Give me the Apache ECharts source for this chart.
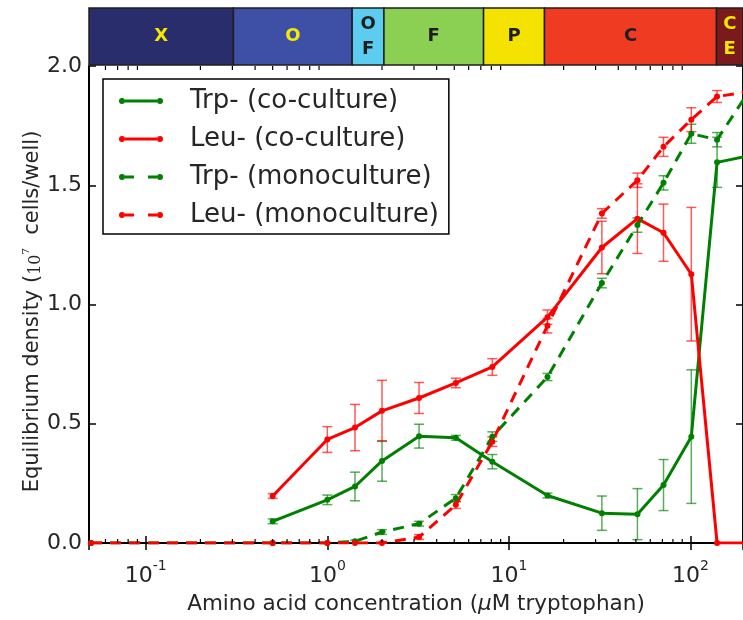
<!DOCTYPE html>
<html>
<head>
<meta charset="utf-8">
<script src="https://cdn.jsdelivr.net/npm/echarts@6/dist/echarts.min.js"></script>
<style>
  html, body { margin: 0; padding: 0; background: #fff; }
  #chart { width: 743px; height: 620px; }
</style>
</head>
<body>
<div id="chart"></div>
<script>
// ---- data (µM tryptophan, density in 10^7 cells/well) ----
const coConc   = [0.5, 1, 1.42, 2, 3.2, 5.1, 8.1, 16.3, 32.5, 51, 71, 101, 140, 200];
const trpCo    = [0.091, 0.181, 0.237, 0.344, 0.448, 0.441, 0.341, 0.199, 0.125, 0.121, 0.243, 0.446, 1.596, 1.62];
const trpCoErr = [0.01, 0.02, 0.06, 0.085, 0.05, 0.01, 0.03, 0.01, 0.072, 0.107, 0.107, 0.28, 0.105, 0];
const leuCo    = [0.197, 0.434, 0.484, 0.554, 0.608, 0.671, 0.738, 0.947, 1.239, 1.36, 1.301, 1.127, 0, 0];
const leuCoErr = [0.01, 0.054, 0.097, 0.128, 0.065, 0.02, 0.035, 0.03, 0.11, 0.146, 0.12, 0.28, 0, 0];

const monoConc   = [0.05, 0.5, 1, 1.42, 2, 3.2, 5.1, 8.1, 16.3, 32.5, 51, 71, 101, 140, 200];
const trpMono    = [0, 0, 0, 0.007, 0.046, 0.081, 0.188, 0.446, 0.696, 1.09, 1.333, 1.51, 1.716, 1.691, 1.87];
const trpMonoErr = [0, 0, 0, 0.005, 0.01, 0.01, 0.015, 0.02, 0.015, 0.02, 0.03, 0.03, 0.04, 0.03, 0];
const leuMono    = [0, 0, 0, 0, 0, 0.025, 0.16, 0.425, 0.911, 1.382, 1.521, 1.661, 1.775, 1.872, 1.89];
const leuMonoErr = [0, 0, 0, 0, 0, 0.01, 0.015, 0.02, 0.03, 0.02, 0.03, 0.04, 0.05, 0.025, 0];

// interaction regimes along the concentration axis
const phaseLabels = ['X', 'O', 'O\nF', 'F', 'P', 'C', 'C\nE'];
const phaseEdges  = [0.0487, 0.304, 1.37, 2.05, 7.25, 15.7, 139, 200];

// log-axis minor tick positions
const minorTicks = [0.06, 0.07, 0.08, 0.09, 0.2, 0.3, 0.4, 0.5, 0.6, 0.7, 0.8, 0.9,
                    2, 3, 4, 5, 6, 7, 8, 9, 20, 30, 40, 50, 60, 70, 80, 90];

const xMin = 0.0487, xMax = 194.5;
const yTicks = [0, 0.5, 1.0, 1.5, 2.0];

// ---- styling ----
const GREEN = '#008000', RED = '#ff0000';
const TXT = '#262626';
const FONT = '"DejaVu Sans", sans-serif';
const phaseFill = ['#2a2d6c', '#3d50a6', '#5ccdf0', '#8bcf53', '#f4e300', '#ef3b22', '#7a1a1c'];
const phaseText = ['#f6e900', '#f6e900', '#1e1e1e', '#1e1e1e', '#1e1e1e', '#1e1e1e', '#f6e900'];

const solidIcon  = 'path://M6,2 L38,2 L38,5 L6,5 Z M0,3.5 A3,3 0 1,1 6,3.5 A3,3 0 1,1 0,3.5 Z M38,3.5 A3,3 0 1,1 44,3.5 A3,3 0 1,1 38,3.5 Z';
const dashedIcon = 'path://M6,2 L15,2 L15,5 L6,5 Z M29,2 L38,2 L38,5 L29,5 Z M0,3.5 A3,3 0 1,1 6,3.5 A3,3 0 1,1 0,3.5 Z M38,3.5 A3,3 0 1,1 44,3.5 A3,3 0 1,1 38,3.5 Z';

function pairs(xs, ys) { return xs.map((x, i) => [x, ys[i]]); }

function lineSeries(name, xs, ys, color, dashed, z) {
  return {
    name, type: 'line', xAxisIndex: 0, yAxisIndex: 0, z,
    data: pairs(xs, ys),
    symbol: 'circle', symbolSize: 6, showSymbol: true,
    clip: true,
    itemStyle: { color, borderWidth: 0 },
    lineStyle: { color, width: 3, type: dashed ? [11, 8] : 'solid' },
    emphasis: { disabled: true },
    animation: false
  };
}

function errorSeries(xs, ys, errs, color, z) {
  return {
    type: 'custom', xAxisIndex: 0, yAxisIndex: 0, z, clip: true, silent: true,
    data: xs.map((x, i) => [x, ys[i], errs[i]]).filter(d => d[2] > 0),
    renderItem(params, api) {
      const x = api.value(0), y = api.value(1), e = api.value(2);
      const hi = api.coord([x, y + e]);
      const lo = api.coord([x, y - e]);
      const w = 5;
      const st = { stroke: color, lineWidth: 1.5, opacity: 0.65 };
      return {
        type: 'group',
        children: [
          { type: 'line', shape: { x1: hi[0], y1: hi[1], x2: lo[0], y2: lo[1] }, style: st },
          { type: 'line', shape: { x1: hi[0] - w, y1: hi[1], x2: hi[0] + w, y2: hi[1] }, style: st },
          { type: 'line', shape: { x1: lo[0] - w, y1: lo[1], x2: lo[0] + w, y2: lo[1] }, style: st }
        ]
      };
    }
  };
}

const chart = echarts.init(document.getElementById('chart'), null, { renderer: 'canvas' });

const axisLineStyle = { color: '#000', width: 2 };

chart.setOption({
  animation: false,
  backgroundColor: '#fff',
  grid: [
    { left: 89, right: -3, top: 66, bottom: 75 },
    { left: 89, right: -3, top: 8, height: 57 }
  ],
  xAxis: [
    {
      type: 'log', logBase: 10, min: xMin, max: xMax, gridIndex: 0, position: 'bottom',
      axisLine: { show: true, lineStyle: axisLineStyle },
      axisTick: { show: true, inside: true, length: 7, lineStyle: { color: '#000', width: 1.5 } },
      splitLine: { show: false },
      axisLabel: {
        margin: 16, showMinLabel: false, showMaxLabel: false,
        formatter: v => '{b|10}{s|' + Math.round(Math.log10(v)) + '}',
        rich: {
          b: { fontFamily: FONT, fontSize: 22, color: TXT, verticalAlign: 'bottom', lineHeight: 28 },
          s: { fontFamily: FONT, fontSize: 14, color: TXT, verticalAlign: 'top', lineHeight: 15 }
        }
      },
      name: 'Amino acid concentration ({i|μ}M tryptophan)',
      nameLocation: 'middle', nameGap: 50,
      nameTextStyle: {
        fontFamily: FONT, fontSize: 21.5, color: TXT,
        rich: { i: { fontFamily: FONT, fontStyle: 'italic', fontSize: 21.5, color: TXT } }
      }
    },
    {
      type: 'log', logBase: 10, min: xMin, max: xMax, gridIndex: 0, position: 'top',
      axisLine: { show: true, lineStyle: axisLineStyle },
      axisTick: { show: true, inside: true, length: 7, lineStyle: { color: '#000', width: 1.5 } },
      axisLabel: { show: false }, splitLine: { show: false }
    },
    {
      type: 'log', logBase: 10, min: xMin, max: xMax, gridIndex: 1, show: false
    }
  ],
  yAxis: [
    {
      type: 'value', min: 0, max: 2, interval: 0.5, gridIndex: 0,
      axisLine: { show: true, lineStyle: axisLineStyle },
      axisTick: { show: true, inside: true, length: 7, lineStyle: { color: '#000', width: 1.5 } },
      splitLine: { show: false },
      axisLabel: {
        margin: 7, fontFamily: FONT, fontSize: 22, color: TXT,
        formatter: v => (yTicks.includes(v) ? v.toFixed(1) : '')
      },
      name: 'Equilibrium density ({m|10}{s|7}  cells/well)',
      nameLocation: 'middle', nameGap: 45, nameRotate: 90,
      nameMoveOverlap: false,
      nameTextStyle: {
        fontFamily: FONT, fontSize: 21, color: TXT,
        padding: [0, 14, 0, 0],
        rich: {
          m: { fontFamily: '"DejaVu Serif", serif', fontSize: 16, color: TXT, verticalAlign: 'bottom', lineHeight: 23 },
          s: { fontFamily: '"DejaVu Serif", serif', fontSize: 10, color: TXT, verticalAlign: 'top', lineHeight: 11 }
        }
      }
    },
    {
      type: 'value', min: 0, max: 2, interval: 0.5, gridIndex: 0, position: 'right',
      axisLine: { show: true, lineStyle: axisLineStyle },
      axisTick: { show: true, inside: true, length: 7, lineStyle: { color: '#000', width: 1.5 } },
      axisLabel: { show: false }, splitLine: { show: false }
    },
    { type: 'value', min: 0, max: 1, gridIndex: 1, show: false }
  ],
  legend: {
    orient: 'vertical', left: 103, top: 79,
    backgroundColor: '#fff', borderColor: '#000', borderWidth: 1.5, borderRadius: 0,
    padding: [9, 10, 6, 16],
    itemGap: 12, itemWidth: 44, itemHeight: 6,
    itemStyle: { borderWidth: 0 },
    textStyle: { fontFamily: FONT, fontSize: 26, color: TXT, padding: [0, 0, 0, 22] },
    selectedMode: false,
    data: [
      { name: 'Trp- (co-culture)', icon: solidIcon },
      { name: 'Leu- (co-culture)', icon: solidIcon },
      { name: 'Trp- (monoculture)', icon: dashedIcon },
      { name: 'Leu- (monoculture)', icon: dashedIcon }
    ]
  },
  series: [
    // regime band above the plot
    {
      type: 'custom', xAxisIndex: 2, yAxisIndex: 2, silent: true,
      data: phaseLabels.map((l, i) => [phaseEdges[i], phaseEdges[i + 1], i]),
      renderItem(params, api) {
        const i = api.value(2);
        const a = api.coord([api.value(0), 1]);
        const b = api.coord([api.value(1), 0]);
        const cs = params.coordSys;
        const rect = echarts.graphic.clipRectByRect(
          { x: a[0], y: a[1], width: b[0] - a[0], height: b[1] - a[1] },
          { x: cs.x, y: cs.y, width: cs.width, height: cs.height }
        );
        if (!rect) return;
        return {
          type: 'rect', shape: rect,
          style: { fill: phaseFill[i], stroke: '#1e1e1e', lineWidth: 1.5 },
          textContent: {
            style: {
              text: phaseLabels[i], fill: phaseText[i],
              font: 'bold 18px "DejaVu Sans", sans-serif',
              align: 'center', verticalAlign: 'middle', lineHeight: 25
            }
          },
          textConfig: { position: 'inside' }
        };
      }
    },
    // minor ticks of the log axis (bottom and top spines)
    {
      type: 'custom', xAxisIndex: 0, yAxisIndex: 0, silent: true, clip: false, z: 5,
      data: minorTicks.map(v => [v, 0]),
      renderItem(params, api) {
        const v = api.value(0);
        const p0 = api.coord([v, 0]);
        const p1 = api.coord([v, 2]);
        const st = { stroke: '#000', lineWidth: 1.2 };
        return {
          type: 'group',
          children: [
            { type: 'line', shape: { x1: p0[0], y1: p0[1], x2: p0[0], y2: p0[1] - 4 }, style: st },
            { type: 'line', shape: { x1: p1[0], y1: p1[1], x2: p1[0], y2: p1[1] + 4 }, style: st }
          ]
        };
      }
    },
    errorSeries(coConc, trpCo, trpCoErr, GREEN, 1),
    errorSeries(coConc, leuCo, leuCoErr, RED, 1),
    errorSeries(monoConc, trpMono, trpMonoErr, GREEN, 1),
    errorSeries(monoConc, leuMono, leuMonoErr, RED, 1),
    lineSeries('Trp- (co-culture)', coConc, trpCo, GREEN, false, 2),
    lineSeries('Leu- (co-culture)', coConc, leuCo, RED, false, 2),
    lineSeries('Trp- (monoculture)', monoConc, trpMono, GREEN, true, 2),
    lineSeries('Leu- (monoculture)', monoConc, leuMono, RED, true, 2)
  ]
});
</script>
</body>
</html>
